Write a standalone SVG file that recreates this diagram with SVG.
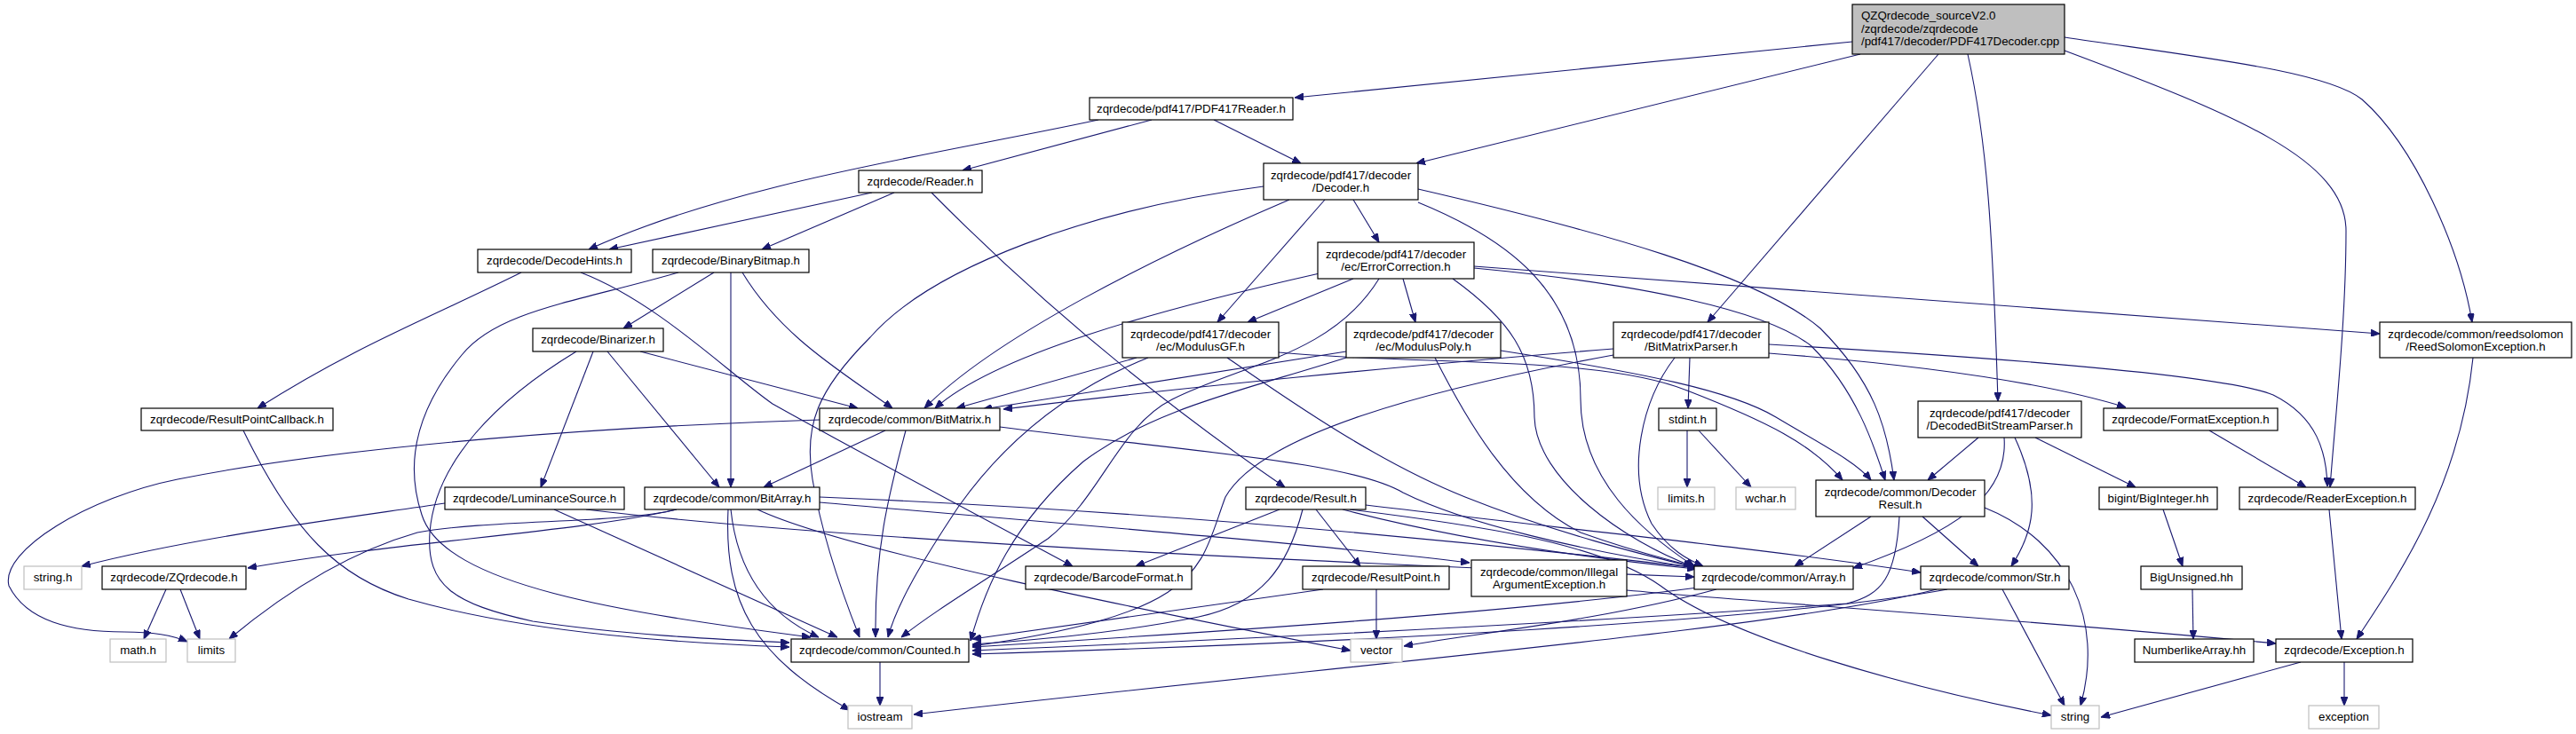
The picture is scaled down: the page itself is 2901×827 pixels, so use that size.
<svg xmlns="http://www.w3.org/2000/svg" width="2901" height="827" viewBox="0 0 2901 827">
<defs>
<marker id="a" markerWidth="10" markerHeight="8" refX="10" refY="4" orient="auto" markerUnits="userSpaceOnUse"><path d="M0,0 L10,4 L0,8 z" fill="#191970" stroke="#191970" stroke-width="1"/></marker>
<style>
.n rect{fill:#fff;stroke:#000;stroke-width:1.2}
.n.g rect{stroke:#bfbfbf}
.n.m rect{fill:#bfbfbf}
text{font-family:"Liberation Sans",Arial,sans-serif;font-size:13.3px;fill:#000;text-anchor:middle}
.n.m text{text-anchor:start}
#edges path{fill:none;stroke:#191970;stroke-width:1.1;marker-end:url(#a)}
</style>
</defs>
<rect width="2901" height="827" fill="#fff"/>
<g id="edges">
<path d="M2086,47 L1458,110"/>
<path d="M2095,61 L1595,184"/>
<path d="M2183,61 L1923,363"/>
<path d="M2216,61 C2238,160 2244,260 2250,452"/>
<path d="M2325,57 C2520,130 2642,180 2642,260 C2642,360 2630,470 2624,549"/>
<path d="M2325,42 C2480,65 2620,80 2660,112 C2720,165 2770,280 2784,363"/>
<path d="M1237,135 C1050,175 830,205 663,281"/>
<path d="M1297,135 L1084,192"/>
<path d="M1367,135 L1465,184"/>
<path d="M982,217 L686,281"/>
<path d="M1007,217 L858,281"/>
<path d="M1049,217 Q1230,400 1447,549"/>
<path d="M587,307 C480,360 400,390 290,460"/>
<path d="M654,307 C740,340 820,420 870,455 C950,500 1100,580 1208,638"/>
<path d="M804,307 L702,370"/>
<path d="M823,307 L823,549"/>
<path d="M836,307 C880,380 950,420 1005,460"/>
<path d="M764,307 C650,340 560,350 520,400 C470,460 455,520 475,580 C500,660 700,690 913,718"/>
<path d="M668,396 L609,549"/>
<path d="M684,396 L810,549"/>
<path d="M721,396 L966,460"/>
<path d="M649,396 C560,450 490,520 484,600 C480,660 510,680 600,700 C700,715 800,720 889,724"/>
<path d="M274,485 C330,600 380,650 460,675 C600,715 780,725 889,729"/>
<path d="M501,567 C380,585 220,605 92,638"/>
<path d="M624,574 L943,718"/>
<path d="M660,574 Q1000,615 1908,650"/>
<path d="M762,574 C650,600 450,610 279,640"/>
<path d="M762,574 C700,590 550,585 470,600 C400,620 330,660 258,720"/>
<path d="M823,574 C830,640 860,690 922,718"/>
<path d="M820,574 C815,680 850,740 957,800"/>
<path d="M853,574 C950,620 1300,690 1521,733"/>
<path d="M923,566 C1200,590 1500,615 1655,634"/>
<path d="M923,560 Q1400,580 1912,640"/>
<path d="M997,485 L860,549"/>
<path d="M1020,485 C1000,560 985,620 986,718"/>
<path d="M923,473 C700,480 400,500 200,540 C100,560 0,620 10,660 C30,700 80,712 140,712 C180,712 200,718 211,723"/>
<path d="M1126,481 C1350,510 1520,520 1580,555 C1650,590 1780,620 1910,640"/>
<path d="M187,664 L162,720"/>
<path d="M203,664 L225,720"/>
<path d="M1524,225 L1553,273"/>
<path d="M1492,225 L1371,363"/>
<path d="M1452,225 C1300,290 1120,380 1041,460"/>
<path d="M1423,210 C1230,235 1050,300 980,380 C920,440 905,480 915,540 C925,600 945,660 968,718"/>
<path d="M1597,228 C1700,270 1780,330 1780,450 C1780,540 1850,600 1908,638"/>
<path d="M1597,213 C1800,260 1980,310 2050,370 C2110,430 2125,480 2133,541"/>
<path d="M1524,314 L1405,363"/>
<path d="M1580,314 L1594,363"/>
<path d="M1486,308 C1300,350 1120,400 1053,460"/>
<path d="M1553,314 C1500,400 1400,410 1320,450 C1260,480 1240,560 1180,607 C1100,660 1050,690 1015,718"/>
<path d="M1636,314 C1700,360 1728,400 1728,470 C1730,540 1830,610 1906,638"/>
<path d="M1660,302 C1850,320 1990,350 2040,390 C2090,440 2110,500 2123,541"/>
<path d="M1660,300 L2680,376"/>
<path d="M1280,403 L1077,460"/>
<path d="M1293,403 C1200,440 1130,500 1080,570 C1040,630 1010,680 1000,718"/>
<path d="M1382,403 C1450,450 1550,520 1650,560 C1750,600 1850,625 1912,640"/>
<path d="M1440,397 C1600,412 1800,400 1900,440 C1990,475 2040,500 2075,541"/>
<path d="M1516,396 L1107,461"/>
<path d="M1516,403 C1400,440 1300,460 1220,520 C1140,590 1110,660 1093,722"/>
<path d="M1616,403 C1650,470 1700,560 1780,600 C1850,625 1880,630 1912,640"/>
<path d="M1690,395 C1850,420 1950,440 2000,470 C2050,500 2090,520 2107,541"/>
<path d="M1903,403 L1901,460"/>
<path d="M1817,393 C1600,410 1300,440 1130,461"/>
<path d="M1817,400 C1600,440 1420,490 1380,560 C1350,640 1360,690 1095,728"/>
<path d="M1886,403 C1850,450 1830,530 1860,590 C1880,620 1900,630 1918,638"/>
<path d="M1992,398 C2150,410 2300,430 2394,459"/>
<path d="M1992,388 C2200,400 2500,420 2560,445 C2610,470 2620,510 2621,548"/>
<path d="M1900,485 L1900,549"/>
<path d="M1913,485 L1972,549"/>
<path d="M2228,493 L2171,541"/>
<path d="M2257,493 C2262,560 2200,600 2087,640"/>
<path d="M2269,493 C2300,560 2290,600 2265,638"/>
<path d="M2292,493 L2405,549"/>
<path d="M2107,582 L2021,638"/>
<path d="M2165,582 L2228,638"/>
<path d="M2235,572 C2330,610 2370,700 2343,795"/>
<path d="M2139,582 C2135,650 2120,670 2080,680 C1800,700 1400,720 1095,733"/>
<path d="M2255,664 L2325,795"/>
<path d="M2193,664 C2000,700 1500,725 1095,737"/>
<path d="M2181,664 C2000,710 1500,750 1029,805"/>
<path d="M1933,664 C1800,700 1650,715 1581,728"/>
<path d="M1912,662 C1700,690 1400,710 1095,729"/>
<path d="M1441,574 L1279,638"/>
<path d="M1482,574 L1532,638"/>
<path d="M1467,574 C1450,640 1420,680 1350,695 C1250,715 1150,722 1095,726"/>
<path d="M1512,574 C1650,610 1800,630 1910,641"/>
<path d="M1538,569 C1800,600 2000,620 2163,645"/>
<path d="M1520,574 C1650,590 1800,610 1870,660 C1950,720 2150,775 2310,806"/>
<path d="M1550,664 L1550,720"/>
<path d="M1490,664 L1095,720"/>
<path d="M1832,665 C2000,680 2300,700 2563,725"/>
<path d="M2488,485 L2597,549"/>
<path d="M2623,574 L2637,720"/>
<path d="M2785,403 C2770,550 2700,650 2654,720"/>
<path d="M2436,574 L2458,638"/>
<path d="M2469,664 L2470,720"/>
<path d="M2591,746 L2366,808"/>
<path d="M2640,746 L2640,795"/>
<path d="M991,746 L991,795"/>
</g>
<g id="n_main" class="n m"><rect x="2086" y="5" width="239" height="56"/><text x="2096" y="22">QZQrdecode_sourceV2.0</text><text x="2096" y="36.5">/zqrdecode/zqrdecode</text><text x="2096" y="51">/pdf417/decoder/PDF417Decoder.cpp</text></g>
<g id="n_pdf417reader" class="n"><rect x="1227" y="110" width="229" height="25"/><text x="1341.5" y="127">zqrdecode/pdf417/PDF417Reader.h</text></g>
<g id="n_reader" class="n"><rect x="967" y="192" width="139" height="25"/><text x="1036.5" y="209">zqrdecode/Reader.h</text></g>
<g id="n_decoder" class="n"><rect x="1423" y="184" width="174" height="41"/><text x="1510" y="202">zqrdecode/pdf417/decoder</text><text x="1510" y="216">/Decoder.h</text></g>
<g id="n_decodehints" class="n"><rect x="538" y="281" width="173" height="26"/><text x="624.5" y="298">zqrdecode/DecodeHints.h</text></g>
<g id="n_binarybitmap" class="n"><rect x="735" y="281" width="176" height="26"/><text x="823" y="298">zqrdecode/BinaryBitmap.h</text></g>
<g id="n_errorcorrection" class="n"><rect x="1484" y="273" width="176" height="41"/><text x="1572" y="291">zqrdecode/pdf417/decoder</text><text x="1572" y="305">/ec/ErrorCorrection.h</text></g>
<g id="n_binarizer" class="n"><rect x="600" y="370" width="147" height="26"/><text x="673.5" y="387">zqrdecode/Binarizer.h</text></g>
<g id="n_modulusgf" class="n"><rect x="1264" y="363" width="176" height="40"/><text x="1352" y="381">zqrdecode/pdf417/decoder</text><text x="1352" y="395">/ec/ModulusGF.h</text></g>
<g id="n_moduluspoly" class="n"><rect x="1516" y="363" width="174" height="40"/><text x="1603" y="381">zqrdecode/pdf417/decoder</text><text x="1603" y="395">/ec/ModulusPoly.h</text></g>
<g id="n_bitmatrixparser" class="n"><rect x="1817" y="363" width="175" height="40"/><text x="1904.5" y="381">zqrdecode/pdf417/decoder</text><text x="1904.5" y="395">/BitMatrixParser.h</text></g>
<g id="n_reedsolomon" class="n"><rect x="2680" y="363" width="216" height="40"/><text x="2788" y="381">zqrdecode/common/reedsolomon</text><text x="2788" y="395">/ReedSolomonException.h</text></g>
<g id="n_resultpointcallback" class="n"><rect x="159" y="460" width="216" height="25"/><text x="267" y="477">zqrdecode/ResultPointCallback.h</text></g>
<g id="n_bitmatrix" class="n"><rect x="923" y="460" width="203" height="25"/><text x="1024.5" y="477">zqrdecode/common/BitMatrix.h</text></g>
<g id="n_stdint" class="n"><rect x="1868" y="460" width="65" height="25"/><text x="1900.5" y="477">stdint.h</text></g>
<g id="n_decodedbitstreamparser" class="n"><rect x="2160" y="452" width="184" height="41"/><text x="2252" y="470">zqrdecode/pdf417/decoder</text><text x="2252" y="484">/DecodedBitStreamParser.h</text></g>
<g id="n_formatexception" class="n"><rect x="2369" y="460" width="196" height="25"/><text x="2467" y="477">zqrdecode/FormatException.h</text></g>
<g id="n_luminancesource" class="n"><rect x="501" y="549" width="202" height="25"/><text x="602" y="566">zqrdecode/LuminanceSource.h</text></g>
<g id="n_bitarray" class="n"><rect x="726" y="549" width="197" height="25"/><text x="824.5" y="566">zqrdecode/common/BitArray.h</text></g>
<g id="n_result" class="n"><rect x="1403" y="549" width="135" height="25"/><text x="1470.5" y="566">zqrdecode/Result.h</text></g>
<g id="n_limits_h" class="n g"><rect x="1867" y="549" width="64" height="25"/><text x="1899" y="566">limits.h</text></g>
<g id="n_wchar" class="n g"><rect x="1955" y="549" width="67" height="25"/><text x="1988.5" y="566">wchar.h</text></g>
<g id="n_decoderresult" class="n"><rect x="2045" y="541" width="190" height="41"/><text x="2140" y="559">zqrdecode/common/Decoder</text><text x="2140" y="573">Result.h</text></g>
<g id="n_biginteger" class="n"><rect x="2364" y="549" width="133" height="25"/><text x="2430.5" y="566">bigint/BigInteger.hh</text></g>
<g id="n_readerexception" class="n"><rect x="2522" y="549" width="198" height="25"/><text x="2621" y="566">zqrdecode/ReaderException.h</text></g>
<g id="n_string_h" class="n g"><rect x="27" y="638" width="65" height="26"/><text x="59.5" y="655">string.h</text></g>
<g id="n_zqrdecode" class="n"><rect x="115" y="638" width="162" height="26"/><text x="196" y="655">zqrdecode/ZQrdecode.h</text></g>
<g id="n_barcodeformat" class="n"><rect x="1155" y="638" width="187" height="26"/><text x="1248.5" y="655">zqrdecode/BarcodeFormat.h</text></g>
<g id="n_resultpoint" class="n"><rect x="1467" y="638" width="165" height="26"/><text x="1549.5" y="655">zqrdecode/ResultPoint.h</text></g>
<g id="n_illegalarg" class="n"><rect x="1657" y="631" width="175" height="41"/><text x="1744.5" y="649">zqrdecode/common/Illegal</text><text x="1744.5" y="663">ArgumentException.h</text></g>
<g id="n_array" class="n"><rect x="1908" y="638" width="179" height="26"/><text x="1997.5" y="655">zqrdecode/common/Array.h</text></g>
<g id="n_str" class="n"><rect x="2163" y="638" width="167" height="26"/><text x="2246.5" y="655">zqrdecode/common/Str.h</text></g>
<g id="n_bigunsigned" class="n"><rect x="2411" y="638" width="114" height="26"/><text x="2468" y="655">BigUnsigned.hh</text></g>
<g id="n_math" class="n g"><rect x="124" y="720" width="63" height="26"/><text x="155.5" y="737">math.h</text></g>
<g id="n_limits" class="n g"><rect x="211" y="720" width="54" height="26"/><text x="238" y="737">limits</text></g>
<g id="n_counted" class="n"><rect x="891" y="720" width="200" height="26"/><text x="991" y="737">zqrdecode/common/Counted.h</text></g>
<g id="n_vector" class="n g"><rect x="1521" y="720" width="58" height="26"/><text x="1550" y="737">vector</text></g>
<g id="n_numberlikearray" class="n"><rect x="2404" y="720" width="134" height="26"/><text x="2471" y="737">NumberlikeArray.hh</text></g>
<g id="n_exception_h" class="n"><rect x="2563" y="720" width="154" height="26"/><text x="2640" y="737">zqrdecode/Exception.h</text></g>
<g id="n_iostream" class="n g"><rect x="955" y="795" width="72" height="26"/><text x="991" y="812">iostream</text></g>
<g id="n_string" class="n g"><rect x="2310" y="795" width="54" height="26"/><text x="2337" y="812">string</text></g>
<g id="n_exception" class="n g"><rect x="2600" y="795" width="79" height="26"/><text x="2639.5" y="812">exception</text></g>
</svg>
